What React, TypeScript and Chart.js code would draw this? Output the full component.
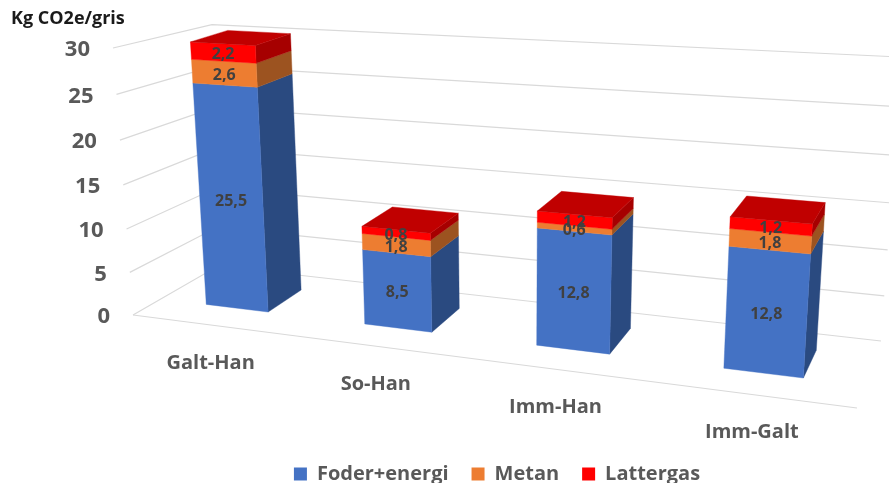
import React, { useEffect, useRef } from "react";
import { Chart, registerables } from "chart.js";

Chart.register(...registerables);

const categories = ["Galt-Han", "So-Han", "Imm-Han", "Imm-Galt"];
const foderEnergi = [25.5, 8.5, 12.8, 12.8];
const metan = [2.6, 1.8, 0.6, 1.8];
const lattergas = [2.2, 0.8, 1.2, 1.2];
const yTicks = { min: 0, max: 30, step: 5 };

const FONT = '"Open Sans", "Noto Sans", sans-serif';
const GREY = "#595959";

// Camera: homogeneous projection of the unit box (X category, Y value, Z depth)
const O = [133, 315]; // front-left floor
const A = [857, 408]; // front-right floor
const C = [218, 266]; // back-left floor
const B = [113, 48]; // front-left top
const wa = -0.159;
const wb = -0.05;
const wc = 0.0978;
const xAxisV = [A[0] * (1 + wa) - O[0], A[1] * (1 + wa) - O[1]];
const yAxisV = [B[0] * (1 + wb) - O[0], B[1] * (1 + wb) - O[1]];
const zAxisV = [C[0] * (1 + wc) - O[0], C[1] * (1 + wc) - O[1]];

const project = (X: number, Y: number, Z: number): [number, number] => {
  const w = 1 + wa * X + wb * Y + wc * Z;
  return [
    (O[0] + xAxisV[0] * X + yAxisV[0] * Y + zAxisV[0] * Z) / w,
    (O[1] + xAxisV[1] * X + yAxisV[1] * Y + zAxisV[1] * Z) / w,
  ];
};

const Z_FRONT = 0.31;
const Z_BACK = 0.74;

const faces = [
  { side: "#2A4A80", },
  { side: "#9C5320", },
  { side: "#A60000", top: "#C00000" },
];

const poly = (ctx: CanvasRenderingContext2D, pts: [number, number][], fill: string) => {
  ctx.beginPath();
  pts.forEach((p, i) => (i ? ctx.lineTo(p[0], p[1]) : ctx.moveTo(p[0], p[1])));
  ctx.closePath();
  ctx.fillStyle = fill;
  ctx.fill();
  ctx.strokeStyle = fill;
  ctx.lineWidth = 0.4;
  ctx.stroke();
};

const scene3d = {
  id: "scene3d",
  afterLayout(chart: any) {
    // The legend sits right of the canvas centre and low on the page
    chart.legend.left += 63;
    chart.legend.right += 63;
    chart.legend.top += 11;
    chart.legend.bottom += 11;
  },
  beforeDatasetsDraw(chart: any) {
    const ctx: CanvasRenderingContext2D = chart.ctx;
    const area = chart.chartArea;
    const yScale = chart.scales.y;
    const xScale = chart.scales.x;
    const toX = (px: number) => (px - area.left) / area.width;
    const toY = (px: number) => (area.bottom - Math.max(px, area.top)) / area.height;

    // walls and floor
    ctx.save();
    ctx.strokeStyle = "#D9D9D9";
    ctx.lineWidth = 1.2;
    yScale.ticks.forEach((t: any) => {
      const Y = toY(yScale.getPixelForValue(t.value));
      const corner = project(0, Y, 1);
      const p = [project(0, Y, 0), [corner[0] + 8 * Y, corner[1] + 3 * Y], project(1, Y, 1)];
      ctx.beginPath();
      ctx.moveTo(p[0][0], p[0][1]);
      ctx.lineTo(p[1][0], p[1][1]);
      ctx.lineTo(p[2][0], p[2][1]);
      ctx.stroke();
    });
    const f0 = project(0, 0, 0);
    const f1 = project(1, 0, 0);
    ctx.beginPath();
    ctx.moveTo(f0[0], f0[1]);
    ctx.lineTo(f1[0], f1[1]);
    ctx.stroke();

    // value tick labels, following the slanted front edge
    ctx.fillStyle = GREY;
    ctx.font = `700 22px ${FONT}`;
    ctx.textAlign = "right";
    ctx.textBaseline = "middle";
    yScale.ticks.forEach((t: any) => {
      const Y = toY(yScale.getPixelForValue(t.value));
      const p = project(0, Y, 0);
      ctx.fillText(String(t.value), p[0] - 23, p[1] + 2);
    });

    // category labels under the front floor edge
    ctx.font = `700 20px ${FONT}`;
    ctx.textAlign = "center";
    categories.forEach((_, i) => {
      const X = toX(xScale.getPixelForValue(i));
      const p = project(X, 0, 0);
      ctx.fillText(xScale.getLabelForValue(i), p[0], p[1] + 38);
    });

    // bars
    const metas = chart.data.datasets.map((_: any, d: number) => chart.getDatasetMeta(d));
    categories.forEach((_, i) => {
      metas.forEach((meta: any, d: number) => {
        const el = meta.data[i];
        const xl = toX(el.x - el.width / 2);
        const xr = toX(el.x + el.width / 2);
        const y0 = toY(el.base);
        const y1 = toY(el.y);
        poly(ctx, [project(xr, y0, Z_FRONT), project(xr, y0, Z_BACK), project(xr, y1, Z_BACK), project(xr, y1, Z_FRONT)], faces[d].side);
        poly(ctx, [project(xl, y0, Z_FRONT), project(xr, y0, Z_FRONT), project(xr, y1, Z_FRONT), project(xl, y1, Z_FRONT)], meta.controller.getDataset().backgroundColor);
        if (faces[d].top) {
          poly(ctx, [project(xl, y1, Z_FRONT), project(xr, y1, Z_FRONT), project(xr, y1, Z_BACK), project(xl, y1, Z_BACK)], faces[d].top as string);
        }
      });
    });

    // data labels
    ctx.fillStyle = "#404040";
    ctx.font = `700 16px ${FONT}`;
    ctx.textAlign = "center";
    metas.forEach((meta: any, d: number) => {
      meta.data.forEach((el: any, i: number) => {
        const X = toX(el.x);
        const Y = (toY(el.base) + toY(el.y)) / 2;
        const p = project(X, Y, Z_FRONT);
        const v = chart.data.datasets[d].data[i] as number;
        ctx.fillText(v.toFixed(1).replace(".", ","), p[0], p[1] + 2);
      });
    });
    ctx.restore();
    return false;
  },
};

export default function App() {
  const ref = useRef<HTMLCanvasElement>(null);
  useEffect(() => {
    const chart = new Chart(ref.current as HTMLCanvasElement, {
      type: "bar",
      data: {
        labels: categories,
        datasets: [
          { label: "Foder+energi", data: foderEnergi, backgroundColor: "#4472C4" },
          { label: "Metan", data: metan, backgroundColor: "#ED7D31" },
          { label: "Lattergas", data: lattergas, backgroundColor: "#FF0000" },
        ],
      },
      plugins: [scene3d as any],
      options: {
        animation: false,
        responsive: false,
        layout: { padding: { left: 11, right: 32, top: 0, bottom: 0 } },
        datasets: { bar: { categoryPercentage: 1, barPercentage: 0.4 } },
        scales: {
          x: {
            stacked: true,
            grid: { display: false },
            border: { display: false },
            ticks: { display: false },
            afterFit: (s: any) => {
              s.height = 104;
            },
          },
          y: {
            stacked: true,
            min: yTicks.min,
            max: yTicks.max,
            ticks: { display: false, stepSize: yTicks.step },
            grid: { display: false },
            border: { display: false },
            afterFit: (s: any) => {
              s.width = 122;
            },
          },
        },
        plugins: {
          tooltip: { enabled: false },
          title: {
            display: true,
            text: "Kg CO2e/gris",
            align: "start",
            color: "#1A1A1A",
            font: { family: FONT, size: 18, weight: "bold", lineHeight: 1.2 },
            padding: { top: 8, bottom: 18.4 },
          },
          legend: {
            position: "bottom",
            labels: {
              boxWidth: 13,
              boxHeight: 13,
              padding: 23,
              color: GREY,
              font: { family: FONT, size: 20, weight: "bold" },
            },
          },
        },
      },
    } as any);
    return () => chart.destroy();
  }, []);
  return (
    <div style={{ position: "absolute", left: 0, top: 0, width: 889, height: 483, background: "#fff" }}>
      <canvas ref={ref} width={889} height={483} style={{ display: "block" }} />
    </div>
  );
}
